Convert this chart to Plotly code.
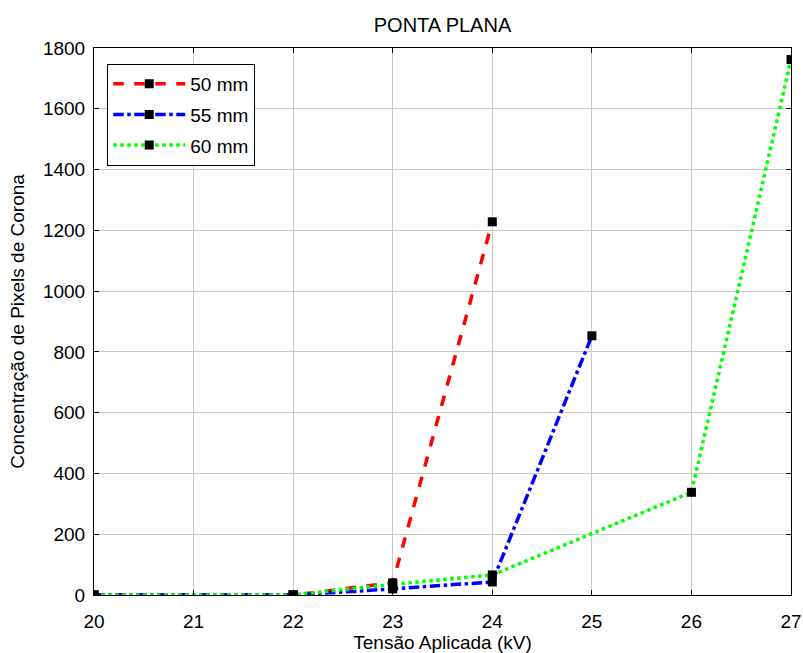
import plotly.graph_objects as go

# Applied voltage (kV) and corona pixel concentration per gap distance
x_50 = [20, 22, 23, 24]
y_50 = [0, 0, 40, 1228]

x_55 = [20, 22, 23, 24, 25]
y_55 = [0, 0, 20, 43, 853]

x_60 = [20, 22, 23, 24, 26, 27]
y_60 = [0, 0, 35, 66, 338, 1762]

series = [
    ("50 mm", x_50, y_50, "#ff0000", "dash"),
    ("55 mm", x_55, y_55, "#0000ff", "dashdot"),
    ("60 mm", x_60, y_60, "#00ff00", "dot"),
]

fig = go.Figure()
for name, xs, ys, color, dash in series:
    fig.add_trace(go.Scatter(
        x=xs, y=ys, name=name, mode="lines+markers", legendgroup=name,
        line=dict(color=color, width=3.5, dash=dash),
        marker=dict(symbol="square", size=9, color="black"),
    ))

font = "Liberation Sans, Arial, sans-serif"
axis_common = dict(
    showline=True, linecolor="black", linewidth=1, mirror="allticks",
    ticks="inside", ticklen=5, tickcolor="black",
    showgrid=True, gridcolor="#c8c8c8", gridwidth=1,
    zeroline=False, automargin=False,
    tickfont=dict(size=19, color="black", family=font),
)

fig.update_layout(
    width=803, height=653,
    margin=dict(l=94, r=12, t=48, b=58),
    paper_bgcolor="white", plot_bgcolor="white",
    font=dict(family=font, size=19, color="black"),
    title=dict(text="PONTA PLANA", x=0.5 * (94 + 791) / 803, xanchor="center",
               y=1 - 25 / 653, yanchor="middle", font=dict(size=20)),
    xaxis=dict(range=[20, 27], dtick=1, ticklabelstandoff=9,
               title=dict(text="Tensão Aplicada (kV)", standoff=3, font=dict(size=19)),
               **axis_common),
    yaxis=dict(range=[0, 1800], dtick=200, ticklabelstandoff=4,
               title=dict(text="Concentração de Pixels de Corona", standoff=13, font=dict(size=19)),
               **axis_common),
    legend=dict(x=0.019, y=0.971, xanchor="left", yanchor="top",
                bordercolor="black", borderwidth=1, bgcolor="white",
                font=dict(size=19), itemwidth=72, tracegroupgap=3),
    showlegend=True,
)

fig.write_html("out.html")
